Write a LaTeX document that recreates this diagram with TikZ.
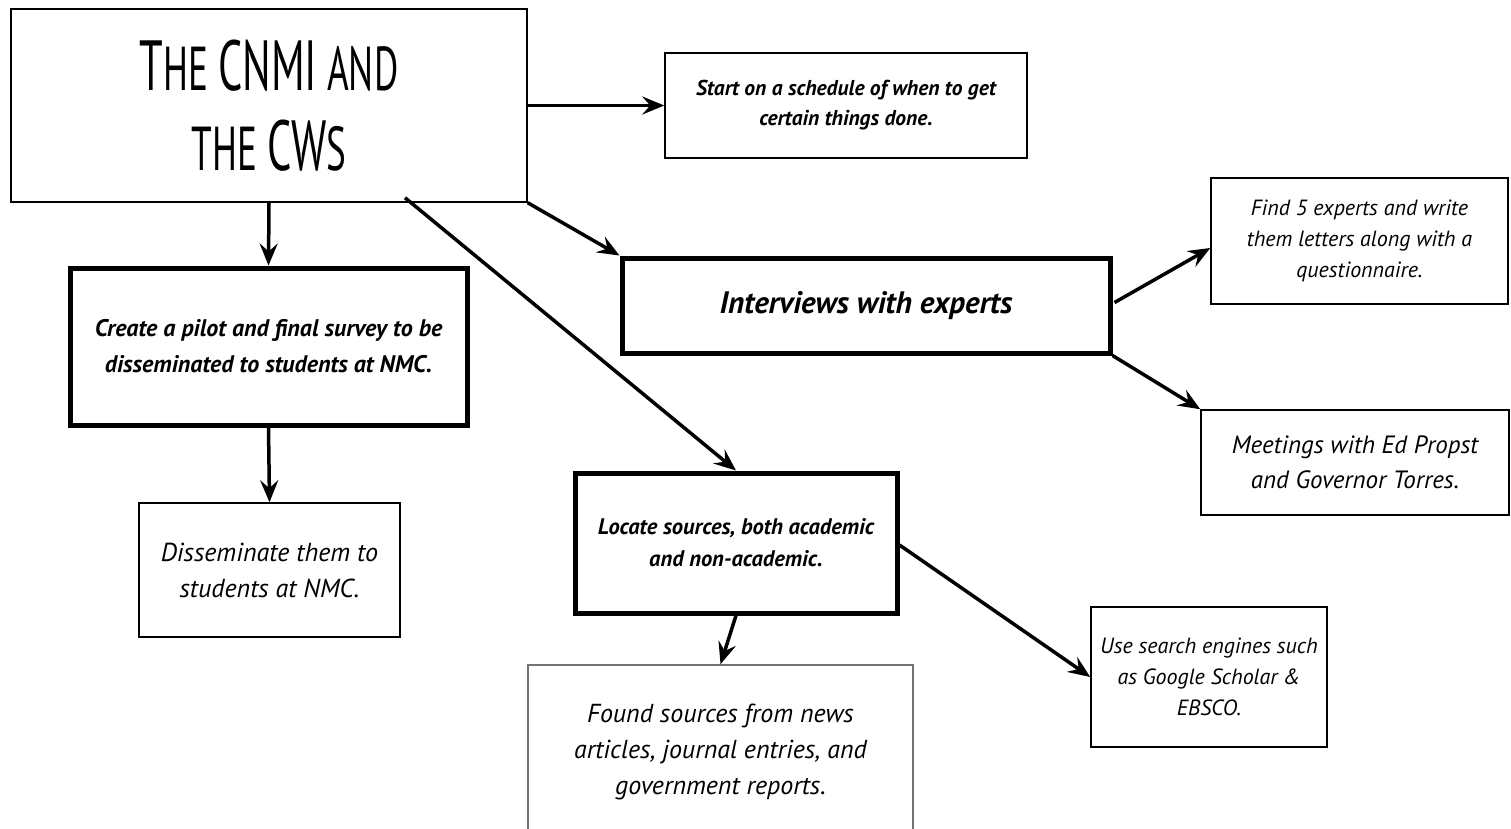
\documentclass[tikz,border=0pt]{standalone}
\usepackage{fontspec}
\usepackage{graphicx}
\setmainfont{PT Sans}
\usetikzlibrary{arrows.meta,calc}
\tikzset{
  box/.style={draw=black, rectangle, align=center, inner sep=0pt},
  thinbox/.style={box, line width=1.5pt},
  thickbox/.style={box, line width=5pt},
  graybox/.style={box, draw=black!55, line width=1.5pt},
  arr/.style={line width=3.5pt, -{Stealth[length=22pt,width=18pt,inset=8pt]}},
  hand/.style={font=\itshape\fontsize{22}{31}\selectfont},
  handbig/.style={font=\itshape\fontsize{26}{36}\selectfont},
  handbold/.style={font=\bfseries\itshape\fontsize{22.5}{34}\selectfont},
  titlefont/.style={font=\fontsize{62}{80}\selectfont},
}
\newcommand\tcap[1]{{\fontsize{71}{80}\selectfont #1}}
\begin{document}
\begin{tikzpicture}[x=1pt,y=-1pt]
\clip (0,0) rectangle (1511,828);
\fill[white] (0,0) rectangle (1511,828);

\node[thinbox, titlefont, minimum width=516pt, minimum height=193pt] (title) at (269,105.5)
  {\scalebox{0.6}[1]{\tcap{T}HE \tcap{CNMI} AND}\\ \scalebox{0.6}[1]{THE \tcap{CW}S}};
\node[thinbox, handbold, font=\bfseries\itshape\fontsize{21.5}{30}\selectfont, minimum width=362pt, minimum height=105pt] (start) at (846,105.5)
  {Start on a schedule of when to get\\certain things done.};
\node[thickbox, font=\bfseries\itshape\fontsize{31}{36}\selectfont, minimum width=488pt, minimum height=95pt] (interviews) at (866,305.5)
  {Interviews with experts};
\node[thinbox, hand, minimum width=297pt, minimum height=126pt] (find) at (1359.5,241)
  {Find 5 experts and write\\them letters along with a\\questionnaire.};
\node[thinbox, handbig, font=\itshape\fontsize{25}{35}\selectfont, minimum width=308pt, minimum height=105pt] (meet) at (1355,462.5)
  {Meetings with Ed Propst\\and Governor Torres.};
\node[thickbox, handbold, font=\bfseries\itshape\fontsize{24}{36}\selectfont, minimum width=397pt, minimum height=157pt] (create) at (268.5,346.5)
  {Create a pilot and final survey to be\\disseminated to students at NMC.};
\node[thinbox, handbig, minimum width=261pt, minimum height=134pt] (dissem) at (269.5,570)
  {Disseminate them to\\students at NMC.};
\node[thickbox, handbold, font=\bfseries\itshape\fontsize{22.5}{32}\selectfont, minimum width=322pt, minimum height=140pt] (locate) at (736,543)
  {Locate sources, both academic\\and non-academic.};
\node[thinbox, hand, minimum width=236pt, minimum height=140pt] (search) at (1209,677)
  {Use search engines such\\as Google Scholar \&\\EBSCO.};
\node[graybox, handbig, minimum width=385pt, minimum height=174pt] (found) at (720.5,752)
  {Found sources from news\\articles, journal entries, and\\government reports.};

\draw[arr] (title.east) -- (start.west);
\draw[arr] (title.south) -- (create.north);
\draw[arr] (title.south east) -- (interviews.north west);
\draw[arr] ($(title.south)+(136,-5)$) -- (locate.north);
\draw[arr] ($(interviews.east)+(2,-3)$) -- ($(find.west)+(0,7)$);
\draw[arr] (interviews.south east) -- (meet.north west);
\draw[arr] (create.south) -- (dissem.north);
\draw[arr] ($(locate.east)+(0,2)$) -- (search.west);
\draw[arr] (locate.south) -- (found.north);
\end{tikzpicture}
\end{document}
